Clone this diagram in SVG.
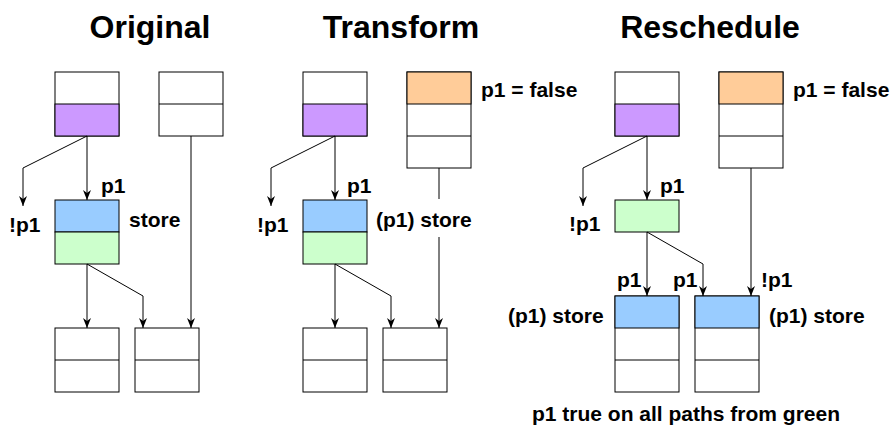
<svg xmlns="http://www.w3.org/2000/svg" width="894" height="433" viewBox="0 0 894 433">
<style>
  .box { fill: #ffffff; stroke: #000; stroke-width: 1; }
  .div { stroke: #000; stroke-width: 1; fill: none; }
  .purple { fill: #cc99ff; }
  .blue { fill: #99ccff; }
  .green { fill: #ccffcc; }
  .orange { fill: #ffcc99; }
  .conn { stroke: #000; stroke-width: 1; fill: none; }
  .title { font-family: "Liberation Sans", Arial, sans-serif; font-weight: bold; font-size: 32px; fill: #000; text-anchor: middle; }
  .lbl { font-family: "Liberation Sans", Arial, sans-serif; font-weight: bold; font-size: 21px; fill: #000; }
</style>
<defs>
  <marker id="arr" markerUnits="userSpaceOnUse" markerWidth="12" markerHeight="12" refX="10" refY="5" orient="auto" viewBox="0 0 12 10">
    <path d="M0,1 L10,5 L0,9 L3,5 z" fill="#000"/>
  </marker>
</defs>
<rect width="894" height="433" fill="#fff"/>

<text class="title" x="150" y="38">Original</text>
<text class="title" x="401" y="38">Transform</text>
<text class="title" x="710" y="38">Reschedule</text>

<!-- Panel 1: Original -->
<g id="o-top-left">
  <rect class="box" x="55" y="72" width="64" height="64"/>
  <rect class="box purple" x="55" y="104" width="64" height="32"/>
</g>
<g id="o-top-right">
  <rect class="box" x="159" y="72" width="64" height="64"/>
  <line class="div" x1="159" y1="104" x2="223" y2="104"/>
</g>
<g id="o-mid">
  <rect class="box blue" x="55" y="200" width="64" height="32"/>
  <rect class="box green" x="55" y="232" width="64" height="32"/>
  <text class="lbl" x="129" y="227">store</text>
</g>
<g id="o-bot-left">
  <rect class="box" x="55" y="328" width="64" height="64"/>
  <line class="div" x1="55" y1="360" x2="119" y2="360"/>
</g>
<g id="o-bot-right">
  <rect class="box" x="135" y="328" width="64" height="64"/>
  <line class="div" x1="135" y1="360" x2="199" y2="360"/>
</g>

<!-- Panel 2: Transform -->
<g id="t-top-left">
  <rect class="box" x="303" y="72" width="64" height="64"/>
  <rect class="box purple" x="303" y="104" width="64" height="32"/>
</g>
<g id="t-top-right">
  <rect class="box" x="407" y="72" width="64" height="96"/>
  <rect class="box orange" x="407" y="72" width="64" height="32"/>
  <line class="div" x1="407" y1="136" x2="471" y2="136"/>
  <text class="lbl" x="481" y="97">p1 = false</text>
</g>
<g id="t-mid">
  <rect class="box blue" x="303" y="200" width="64" height="32"/>
  <rect class="box green" x="303" y="232" width="64" height="32"/>
  <text class="lbl" x="376" y="227">(p1) store</text>
</g>
<g id="t-bot-left">
  <rect class="box" x="303" y="328" width="64" height="64"/>
  <line class="div" x1="303" y1="360" x2="367" y2="360"/>
</g>
<g id="t-bot-right">
  <rect class="box" x="383" y="328" width="64" height="64"/>
  <line class="div" x1="383" y1="360" x2="447" y2="360"/>
</g>

<!-- Panel 3: Reschedule -->
<g id="r-top-left">
  <rect class="box" x="615" y="72" width="64" height="64"/>
  <rect class="box purple" x="615" y="104" width="64" height="32"/>
</g>
<g id="r-top-right">
  <rect class="box" x="719" y="72" width="64" height="96"/>
  <rect class="box orange" x="719" y="72" width="64" height="32"/>
  <line class="div" x1="719" y1="136" x2="783" y2="136"/>
  <text class="lbl" x="793" y="97">p1 = false</text>
</g>
<g id="r-mid">
  <rect class="box green" x="615" y="200" width="64" height="32"/>
</g>
<g id="r-bot-left">
  <rect class="box" x="615" y="296" width="64" height="96"/>
  <rect class="box blue" x="615" y="296" width="64" height="32"/>
  <line class="div" x1="615" y1="360" x2="679" y2="360"/>
  <text class="lbl" x="508" y="323">(p1) store</text>
</g>
<g id="r-bot-right">
  <rect class="box" x="695" y="296" width="64" height="96"/>
  <rect class="box blue" x="695" y="296" width="64" height="32"/>
  <line class="div" x1="695" y1="360" x2="759" y2="360"/>
  <text class="lbl" x="769" y="323">(p1) store</text>
</g>

<g id="connectors">
  <!-- Original -->
  <path class="conn" d="M87,136 V200" marker-end="url(#arr)"/>
  <path class="conn" d="M87,136 L23,168 V206" marker-end="url(#arr)"/>
  <path class="conn" d="M87,264 V328" marker-end="url(#arr)"/>
  <path class="conn" d="M87,264 L143,296 V328" marker-end="url(#arr)"/>
  <path class="conn" d="M191,136 V328" marker-end="url(#arr)"/>
  <text class="lbl" x="101" y="193">p1</text>
  <text class="lbl" x="9" y="232">!p1</text>
  <!-- Transform -->
  <path class="conn" d="M335,136 V200" marker-end="url(#arr)"/>
  <path class="conn" d="M335,136 L271,168 V206" marker-end="url(#arr)"/>
  <path class="conn" d="M335,264 V328" marker-end="url(#arr)"/>
  <path class="conn" d="M335,264 L391,296 V328" marker-end="url(#arr)"/>
  <path class="conn" d="M439,168 V199 M439,237 V328" marker-end="url(#arr)"/>
  <text class="lbl" x="347" y="193">p1</text>
  <text class="lbl" x="257" y="232">!p1</text>
  <!-- Reschedule -->
  <path class="conn" d="M647,136 V200" marker-end="url(#arr)"/>
  <path class="conn" d="M647,136 L583,168 V206" marker-end="url(#arr)"/>
  <path class="conn" d="M647,232 V296" marker-end="url(#arr)"/>
  <path class="conn" d="M647,232 L703,264 V296" marker-end="url(#arr)"/>
  <path class="conn" d="M751,168 V296" marker-end="url(#arr)"/>
  <text class="lbl" x="660" y="193">p1</text>
  <text class="lbl" x="569" y="231">!p1</text>
  <text class="lbl" x="617" y="287">p1</text>
  <text class="lbl" x="673" y="287">p1</text>
  <text class="lbl" x="761" y="287">!p1</text>
</g>

<text class="lbl" x="686" y="421" text-anchor="middle">p1 true on all paths from green</text>
</svg>
